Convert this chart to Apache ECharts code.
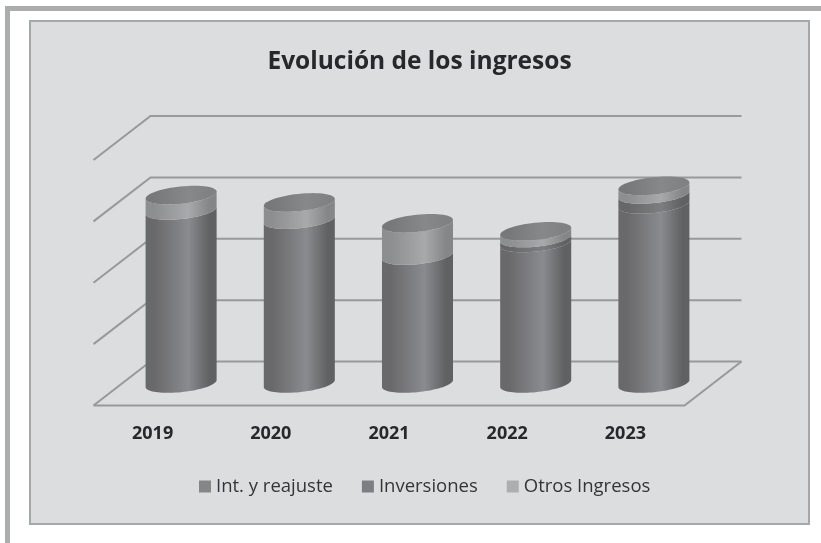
<!DOCTYPE html>
<html>
<head>
<meta charset="utf-8">
<title>Evolución de los ingresos</title>
<script src="https://cdn.jsdelivr.net/npm/echarts@6/dist/echarts.min.js"></script>
<style>
  html, body { margin: 0; padding: 0; background: #fff; }
  #chart1 { width: 821px; height: 543px; }
</style>
</head>
<body>
<div id="chart1"></div>
<script>
// valores, en unidades de linea de grilla
const years = ['2019', '2020', '2021', '2022', '2023'];
const intReajuste = [2.82, 2.67, 2.085, 2.29, 2.92];
const inversiones = [0, 0, 0, 0.08, 0.16];
const otrosIngresos = [0.25, 0.28, 0.525, 0.11, 0.14];
const yTicks = [0, 1, 2, 3, 4];

// profundidad del piso y forma de la elipse
const depthX = 28.5;
const depthY = 22;
const radiusX = 35.7;
const radiusY = 8.6;
const tilt = -6 * Math.PI / 180;

const ellipsePoint = (cx, cy, t) => [
  cx + radiusX * Math.cos(t) * Math.cos(tilt) - radiusY * Math.sin(t) * Math.sin(tilt),
  cy + radiusX * Math.cos(t) * Math.sin(tilt) + radiusY * Math.sin(t) * Math.cos(tilt)
];

const hGradient = (edgeL, mid, edgeR) => new echarts.graphic.LinearGradient(0, 0, 1, 0, [
  { offset: 0, color: edgeL },
  { offset: 0.12, color: edgeL },
  { offset: 0.6, color: mid },
  { offset: 0.9, color: edgeR },
  { offset: 1, color: edgeR }
]);

// lineas de la grilla: pared izquierda y pared del fondo
const renderGridLine = (params, api) => {
  const rect = params.coordSys;
  const y = api.coord([0, api.value(0)])[1];
  const line = (points) => ({
    type: 'polyline',
    shape: { points: points },
    style: { fill: 'none', stroke: '#98999b', lineWidth: 2 }
  });
  const children = [line([
    [rect.x - depthX, y + depthY],
    [rect.x + depthX, y - depthY],
    [rect.x + rect.width + depthX, y - depthY]
  ])];
  if (api.value(0) === 0) {
    children.push(line([
      [rect.x - depthX, y + depthY],
      [rect.x + rect.width - depthX, y + depthY],
      [rect.x + rect.width + depthX, y - depthY]
    ]));
  }
  return { type: 'group', children: children };
};

// un tramo del cilindro, apilado sobre los valores de "below"
const makeSegment = (name, values, below, legendColor, colors, lidColors) => ({
  name: name,
  type: 'custom',
  itemStyle: { color: legendColor },
  data: values.map((v, i) => [i, v]),
  encode: { x: 0, y: 1 },
  renderItem: (params, api) => {
    const i = api.value(0);
    const base = below.reduce((sum, arr) => sum + arr[i], 0);
    const bottom = api.coord([i, base]);
    const top = api.coord([i, base + api.value(1)]);
    const start = Math.atan(-(radiusY / radiusX) * Math.tan(tilt));
    const children = [];
    if (api.value(1) > 0) {
      const lower = [];
      const upper = [];
      for (let k = 0; k <= 40; k++) {
        const t = start + Math.PI * k / 40;
        lower.push(ellipsePoint(bottom[0], bottom[1], t));
        upper.unshift(ellipsePoint(top[0], top[1], t));
      }
      children.push({
        type: 'polygon',
        shape: { points: lower.concat(upper) },
        style: { fill: hGradient(colors[0], colors[1], colors[2]) }
      });
    }
    if (lidColors) {
      const lid = [];
      for (let k = 0; k < 60; k++) {
        lid.push(ellipsePoint(top[0], top[1], Math.PI * 2 * k / 60));
      }
      children.push({
        type: 'polygon',
        shape: { points: lid },
        style: { fill: hGradient(lidColors[0], lidColors[1], lidColors[2]) }
      });
    }
    return { type: 'group', children: children };
  }
});

const myChart = echarts.init(document.getElementById('chart1'), null, { renderer: 'canvas' });

let option = {
  animation: false,
  backgroundColor: '#ffffff',
  textStyle: { fontFamily: '"Open Sans", sans-serif' },
  title: {
    text: 'Evolución de los ingresos',
    left: 414.5,
    top: 45,
    textAlign: 'center',
    textStyle: { fontFamily: '"Open Sans", sans-serif', fontSize: 24.5, fontWeight: 'bold', color: '#26282b' }
  },
  graphic: [
    { type: 'rect', z: -10, shape: { x: 5, y: 6, width: 816, height: 5 }, style: { fill: '#abacae' } },
    { type: 'rect', z: -10, shape: { x: 5, y: 6, width: 5, height: 537 }, style: { fill: '#abacae' } },
    {
      type: 'rect',
      z: -10,
      shape: { x: 30, y: 21, width: 779, height: 503 },
      style: { fill: '#dcddde', stroke: '#a6a7a9', lineWidth: 2 }
    }
  ],
  legend: {
    left: 194,
    top: 472,
    icon: 'rect',
    itemWidth: 12,
    itemHeight: 12,
    itemGap: 29,
    data: ['Int. y reajuste', 'Inversiones', 'Otros Ingresos'],
    textStyle: { fontFamily: '"Open Sans", sans-serif', fontSize: 18.5, color: '#333538' }
  },
  grid: { left: 122, width: 591, top: 138, height: 245.5 },
  xAxis: {
    type: 'category',
    data: years,
    axisLine: { show: false },
    axisTick: { show: false },
    axisLabel: {
      margin: 41,
      padding: [0, 57, 0, 0],
      fontFamily: '"Open Sans", sans-serif',
      fontSize: 18,
      fontWeight: 'bold',
      color: '#26282b'
    }
  },
  yAxis: {
    type: 'value',
    min: 0,
    max: 4,
    interval: 1,
    show: false,
    splitLine: { show: false }
  },
  series: [
    {
      name: 'grilla',
      type: 'custom',
      silent: true,
      data: yTicks.map(t => [t]),
      encode: { y: 0 },
      renderItem: renderGridLine
    },
    makeSegment('Int. y reajuste', intReajuste, [], '#858688', ['#69696c', '#8a8b8e', '#606163']),
    makeSegment('Inversiones', inversiones, [intReajuste], '#7d7e81', ['#666769', '#7d7e80', '#606163']),
    makeSegment('Otros Ingresos', otrosIngresos, [intReajuste, inversiones], '#adaeb0',
      ['#8d8e90', '#a8a9ab', '#858688'], ['#77787a', '#87888a', '#808183'])
  ]
};

myChart.setOption(option);
</script>
</body>
</html>
